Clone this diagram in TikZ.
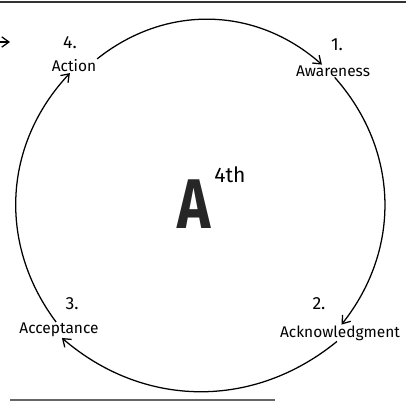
\documentclass[tikz,border=0pt]{standalone}
\usepackage{fontspec}
\setmainfont{Fira Sans}
\usetikzlibrary{arrows.meta,positioning}
\tikzset{
	lbl/.style={inner sep=0.5pt,font=\fontsize{11}{12}\selectfont},
	num/.style={inner sep=0.5pt,font=\fontsize{12.5}{13}\selectfont},
	arr/.style={-{Straight Barb[length=1.8mm,width=2.6mm]},line width=0.9pt},
	rule/.style={line width=#1}
}

\begin{document}
\begin{tikzpicture}[x=0.025cm,y=-0.025cm]
		\useasboundingbox (0,0) rectangle (406,402);
		\node[lbl] (act) at (74,66) {Action};
		\node[num] (n4) at (70,43) {4.};
		\node[lbl] (awa) at (333,71) {Awareness};
		\node[num] (n1) at (337,45) {1.};
		\node[lbl] (ack) at (340,333) {Acknowledgment};
		\node[num] (n2) at (319,304) {2.};
		\node[lbl] (acc) at (59,330) {Acceptance};
		\node[num] (n3) at (72,304) {3.};
		\node[font=\fontsize{50}{50}\selectfont\bfseries,text=black!85,inner sep=0pt,xscale=0.8,transform shape] (bigA) at (194,204) {A};
		\node[font=\fontsize{15}{15}\selectfont,inner sep=0pt] (sup) at (230,175) {4th};
		\foreach \a/\b in {act.north east/awa.150,awa.-75/ack.80,ack.-110/acc.-70,acc.110/act.-120}
			\draw[arr] (\a) to[bend left=40] (\b);
		% rules and cut-off arrow
		\coordinate (tl) at (0,2); \coordinate (tr) at (406,2);
		\draw[rule=2pt,black!80] (tl) -- (tr);
		\coordinate (bl) at (10,400); \coordinate (br) at (275,400);
		\draw[rule=1.2pt,black!60] (bl) -- (br);
		\coordinate (frag) at (0,42); \coordinate (fragtip) at (10,42);
		\draw[arr] (frag) -- (fragtip);
	\end{tikzpicture}
\end{document}
